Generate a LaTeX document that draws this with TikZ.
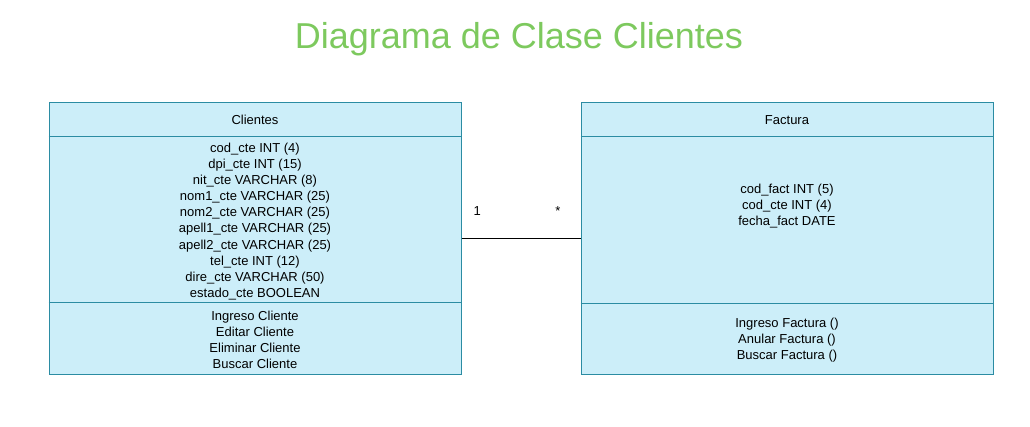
\documentclass[tikz,border=0pt]{standalone}
\usepackage{fontspec}
\setmainfont{Liberation Sans}
\usepackage{xcolor}
\usetikzlibrary{positioning}

\definecolor{classfill}{HTML}{CCEEF9}
\definecolor{classline}{HTML}{2B8CA3}
\definecolor{titlegreen}{HTML}{7DC95E}

\begin{document}
\begin{tikzpicture}[ % diagrama de clases
    x=1pt, y=-1pt,
    classbox/.style={rectangle, draw=classline, fill=classfill, line width=1pt, minimum width=412pt, minimum height=272pt, inner sep=0pt},
    divider/.style={draw=classline, line width=1pt},
    members/.style={align=center, inner sep=0pt, font=\fontsize{13}{16.1}\selectfont},
    classname/.style={inner sep=0pt, font=\fontsize{13}{16}\selectfont},
    heading/.style={anchor=base, inner sep=0pt, text=titlegreen, font=\fontsize{36}{40}\selectfont},
    assoc/.style={draw, line width=1pt},
    mult/.style={inner sep=0pt, font=\fontsize{13}{16}\selectfont}
    ]
    \useasboundingbox (0,0) rectangle (1030,426);

    % Titulo
    \node [heading] (title) at (519,48) {Diagrama de Clase Clientes};

    % Clase Clientes
    \node [classbox] (clientes) at (255,238) {};
    \draw [divider] ([yshift=-35pt]clientes.north west) -- ([yshift=-35pt]clientes.north east);
    \draw [divider] ([yshift=72pt]clientes.south west) -- ([yshift=72pt]clientes.south east);
    \node [classname] (clientesName) at (255,120) {Clientes};
    \node [members] (clientesAttr) at (255,221.5) {cod\_cte INT (4)\\dpi\_cte INT (15)\\nit\_cte VARCHAR (8)\\nom1\_cte VARCHAR (25)\\nom2\_cte VARCHAR (25)\\apell1\_cte VARCHAR (25)\\apell2\_cte VARCHAR (25)\\tel\_cte INT (12)\\dire\_cte VARCHAR (50)\\estado\_cte BOOLEAN};
    \node [members] (clientesOps) at (255,339.5) {Ingreso Cliente\\Editar Cliente\\Eliminar Cliente\\Buscar Cliente};

    % Clase Factura
    \node [classbox] (factura) at (787,238) {};
    \draw [divider] ([yshift=-35pt]factura.north west) -- ([yshift=-35pt]factura.north east);
    \draw [divider] ([yshift=71pt]factura.south west) -- ([yshift=71pt]factura.south east);
    \node [classname] (facturaName) at (787,120) {Factura};
    \node [members] (facturaAttr) at (787,206) {cod\_fact INT (5)\\cod\_cte INT (4)\\fecha\_fact DATE};
    \node [members] (facturaOps) at (787,340) {Ingreso Factura ()\\Anular Factura ()\\Buscar Factura ()};

    % Asociacion
    \path [assoc] (clientes) -- node [mult, pos=0.133, yshift=27pt] (multOne) {1} node [mult, pos=0.81, yshift=27pt] (multMany) {*} (factura);

\end{tikzpicture}
\end{document}
